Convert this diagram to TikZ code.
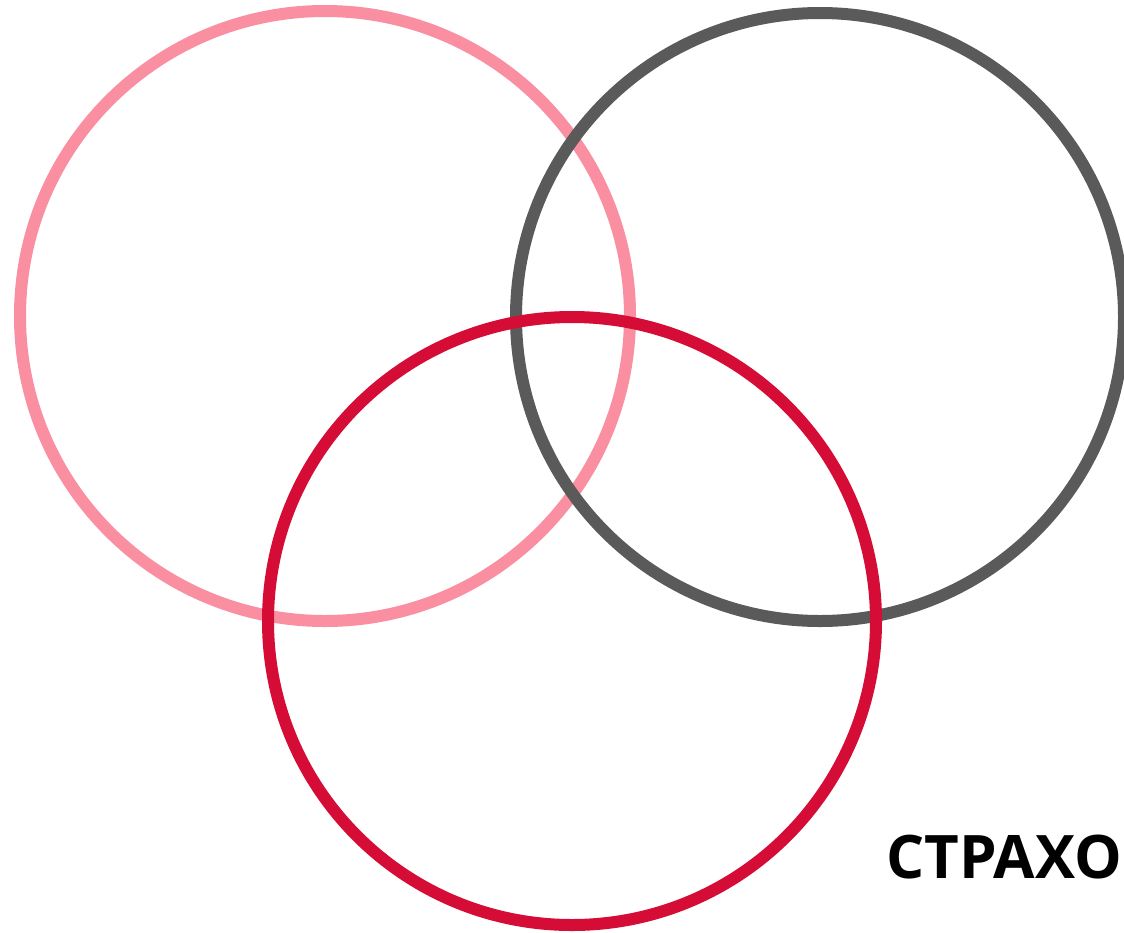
\documentclass[tikz,border=0pt]{standalone}
\usepackage{fontspec}
\newfontfamily\labelfont{Open Sans}
\definecolor{cpink}{HTML}{F98FA0}
\definecolor{cgrey}{HTML}{5A5A5A}
\definecolor{cred}{HTML}{D50C35}
\begin{document}
\begin{tikzpicture}[x=1pt,y=-1pt,
  ring/.style={line width=12pt}]
\useasboundingbox (0,0) rectangle (1124,932);
\draw[ring,cpink] (325,316) circle[radius=305];
\draw[ring,cgrey] (820,317) circle[radius=304];
\draw[ring,cred] (572,621) circle[radius=304];
\node[anchor=base west,inner sep=0pt,font=\labelfont\bfseries\fontsize{60}{72}\selectfont] (lbl) at (886,878) {СТРАХО};
\end{tikzpicture}
\end{document}
